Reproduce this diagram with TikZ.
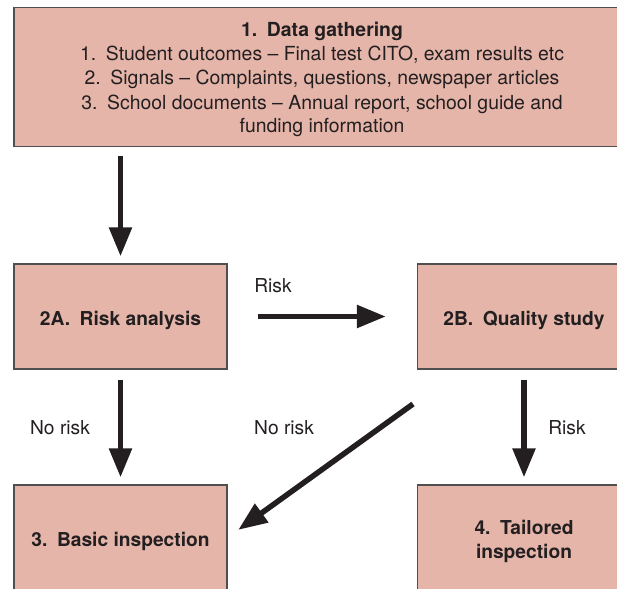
\documentclass[tikz,border=0pt]{standalone}
\usepackage{fontspec}
\setmainfont{TeX Gyre Heros}
\usetikzlibrary{arrows.meta}
\definecolor{boxfill}{RGB}{229,181,170}
\definecolor{boxline}{RGB}{80,78,78}
\definecolor{ink}{RGB}{35,31,32}

\begin{document}
\begin{tikzpicture}[x=1pt,y=-1pt,
  box/.style={draw=boxline,line width=1.3pt,fill=boxfill,text=ink,align=center,
    minimum width=213pt,minimum height=105pt,inner sep=0pt,
    text height=17pt,text depth=0pt,
    font=\fontsize{19.2}{24}\selectfont\bfseries},
  flow/.style={draw=ink,line width=5.5pt,-{Triangle[length=29pt,width=22pt]}},
  lbl/.style={text=ink,inner sep=0pt,font=\fontsize{19.2}{24}\selectfont}]
\useasboundingbox (0,0) rectangle (617,588);
\clip (0,0) rectangle (617,588);
\node[box,minimum width=616pt,minimum height=139pt,text height=112pt,
  font=\fontsize{19.4}{24}\selectfont] (gather) at (322,77)
  {\textbf{1.\enspace Data gathering}\\
   1.\enspace Student outcomes -- Final test CITO, exam results etc\\
   2.\enspace Signals -- Complaints, questions, newspaper articles\\
   3.\enspace School documents -- Annual report, school guide and\\
   funding information};
\node[box] (riskbox) at (120.5,316.5) {2A.\enspace Risk analysis};
\node[box] (study) at (524,316.5) {2B.\enspace Quality study};
\node[box] (basic) at (120.5,537.5) {3.\enspace Basic inspection};
\node[box,text height=42pt] (tailored) at (524,537.5) {4.\enspace Tailored\\inspection};
\node[lbl] (risktop) at (273,286) {Risk};
\node[lbl] (norisklft) at (60,428) {No risk};
\node[lbl] (noriskmid) at (284,428) {No risk};
\node[lbl] (riskrgt) at (567,428) {Risk};
\coordinate (diagtail) at (413,404);
\draw[flow,shorten <=9pt,shorten >=7pt] (gather.south -| riskbox) -- (riskbox.north);
\draw[flow,shorten <=30pt,shorten >=31pt] (riskbox) -- (study);
\draw[flow,shorten <=10pt,shorten >=7pt] (riskbox) -- (basic);
\draw[flow,shorten <=10pt,shorten >=7pt] (study) -- (tailored);
\draw[flow,shorten >=13pt] (diagtail) -- (basic.east);
\end{tikzpicture}
\end{document}
